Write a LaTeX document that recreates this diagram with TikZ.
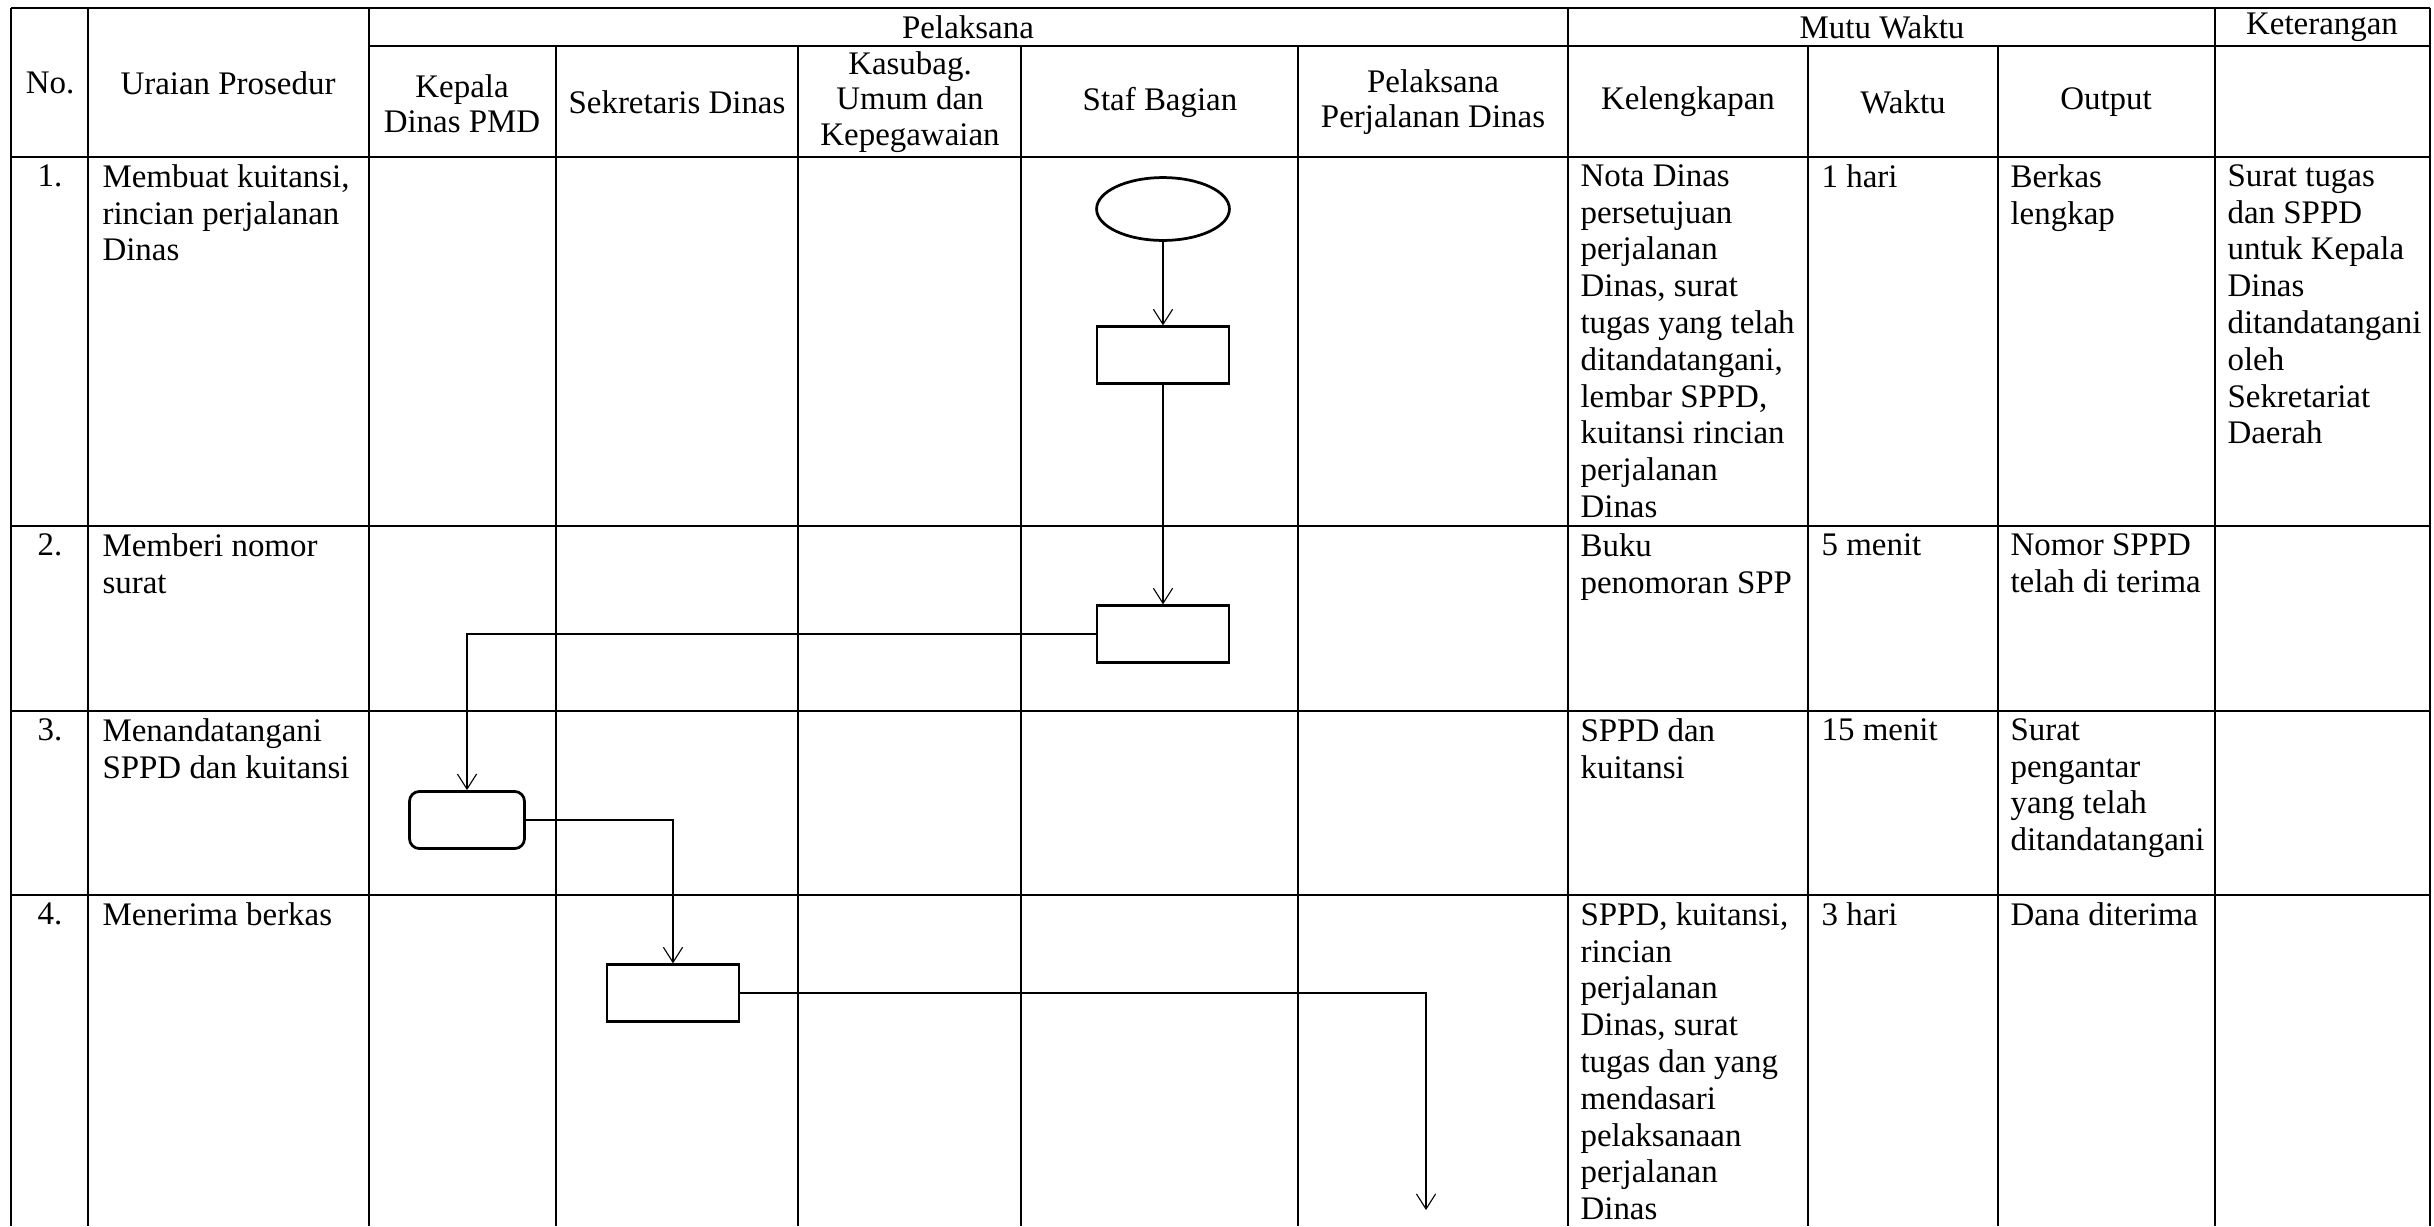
\documentclass[tikz,border=0pt]{standalone}
\usepackage{fontspec}
\setmainfont{Liberation Serif}
\usepackage{tikz}
\usetikzlibrary{arrows.meta}
\usetikzlibrary{shapes.geometric}
\usetikzlibrary{positioning}

\begin{document}
\begin{tikzpicture}[x=0.3643pt, y=-0.3643pt,
    rule/.style={line width=0.7pt},
    head/.style={align=center, inner sep=0pt, font=\fontsize{12}{12.8}\selectfont},
    cell/.style={align=left, anchor=north west, inner sep=0pt, font=\fontsize{12}{13.4}\selectfont},
    num/.style={anchor=north, inner sep=0pt, font=\fontsize{12}{13.4}\selectfont},
    startbox/.style={draw, ellipse, line width=1pt, minimum width=48.4pt, minimum height=22.9pt, inner sep=0pt},
    procbox/.style={draw, line width=1pt, minimum width=48.1pt, minimum height=20.6pt, inner sep=0pt},
    signbox/.style={draw, rounded corners=3.6pt, line width=1pt, minimum width=41.9pt, minimum height=20.8pt, inner sep=0pt},
    flow/.style={line width=0.4pt, -{Straight Barb[length=5.5pt, width=7pt]}}]
  \useasboundingbox (0,0) rectangle (2434,1226);

  % table
  \draw [rule] (11,8) -- (2430,8);
  \draw [rule] (369,46) -- (2430,46);
  \foreach \y in {157,526,711,895}
    \draw [rule] (11,\y) -- (2430,\y);
  \foreach \x in {11,88,369,1568,2215,2430}
    \draw [rule] (\x,8) -- (\x,1226);
  \foreach \x in {556,798,1021,1298,1808,1998}
    \draw [rule] (\x,46) -- (\x,1226);

  % header
  \node [head] (hno) at (50,83) {No.};
  \node [head] (hur) at (228,83) {Uraian Prosedur};
  \node [head] (hpel) at (968,27) {Pelaksana};
  \node [head] (hmutu) at (1882,27) {Mutu Waktu};
  \node [head] (hket) at (2322,27) {Keterangan};
  \node [head] (hkad) at (462,104) {Kepala\\Dinas PMD};
  \node [head] (hsek) at (677,102) {Sekretaris Dinas};
  \node [head] (hkas) at (910,102) {Kasubag.\\Umum dan\\Kepegawaian};
  \node [head] (hstaf) at (1160,102) {Staf Bagian};
  \node [head] (hppd) at (1433,102) {Pelaksana\\Perjalanan Dinas};
  \node [head] (hkel) at (1688,102) {Kelengkapan};
  \node [head] (hwak) at (1903,102) {Waktu};
  \node [head] (hout) at (2106,102) {Output};

  % row 1
  \node [num] (n1) at (50,164) {1.};
  \node [cell] (u1) at (102,164) {Membuat kuitansi,\\rincian perjalanan\\Dinas};
  \node [cell] (k1) at (1580,164) {Nota Dinas\\persetujuan\\perjalanan\\Dinas, surat\\tugas yang telah\\ditandatangani,\\lembar SPPD,\\kuitansi rincian\\perjalanan\\Dinas};
  \node [cell] (w1) at (1821,164) {1 hari};
  \node [cell] (o1) at (2010,164) {Berkas\\lengkap};
  \node [cell] (ket1) at (2227,164) {Surat tugas\\dan SPPD\\untuk Kepala\\Dinas\\ditandatangani\\oleh\\Sekretariat\\Daerah};

  % row 2
  \node [num] (n2) at (50,533) {2.};
  \node [cell] (u2) at (102,533) {Memberi nomor\\surat};
  \node [cell] (k2) at (1580,533) {Buku\\penomoran SPP};
  \node [cell] (w2) at (1821,533) {5 menit};
  \node [cell] (o2) at (2010,533) {Nomor SPPD\\telah di terima};

  % row 3
  \node [num] (n3) at (50,718) {3.};
  \node [cell] (u3) at (102,718) {Menandatangani\\SPPD dan kuitansi};
  \node [cell] (k3) at (1580,718) {SPPD dan\\kuitansi};
  \node [cell] (w3) at (1821,718) {15 menit};
  \node [cell] (o3) at (2010,718) {Surat\\pengantar\\yang telah\\ditandatangani};

  % row 4
  \node [num] (n4) at (50,902) {4.};
  \node [cell] (u4) at (102,902) {Menerima berkas};
  \node [cell] (k4) at (1580,902) {SPPD, kuitansi,\\rincian\\perjalanan\\Dinas, surat\\tugas dan yang\\mendasari\\pelaksanaan\\perjalanan\\Dinas};
  \node [cell] (w4) at (1821,902) {3 hari};
  \node [cell] (o4) at (2010,902) {Dana diterima};

  % flow
  \node [startbox] (start) at (1163,209) {};
  \node [procbox] (kuitansi) at (1163,355) {};
  \node [procbox] (nomor) at (1163,634) {};
  \node [signbox] (ttd) at (467,820) {};
  \node [procbox] (terima) at (673,993) {};
  \coordinate (end) at (1426,1210);

  \draw [flow] (start) -- (kuitansi);
  \draw [flow] (kuitansi) -- (nomor);
  \draw [flow] (nomor.west) -| (ttd.north);
  \draw [flow] (ttd.east) -| (terima.north);
  \draw [flow] (terima.east) -| (end);
\end{tikzpicture}
\end{document}
